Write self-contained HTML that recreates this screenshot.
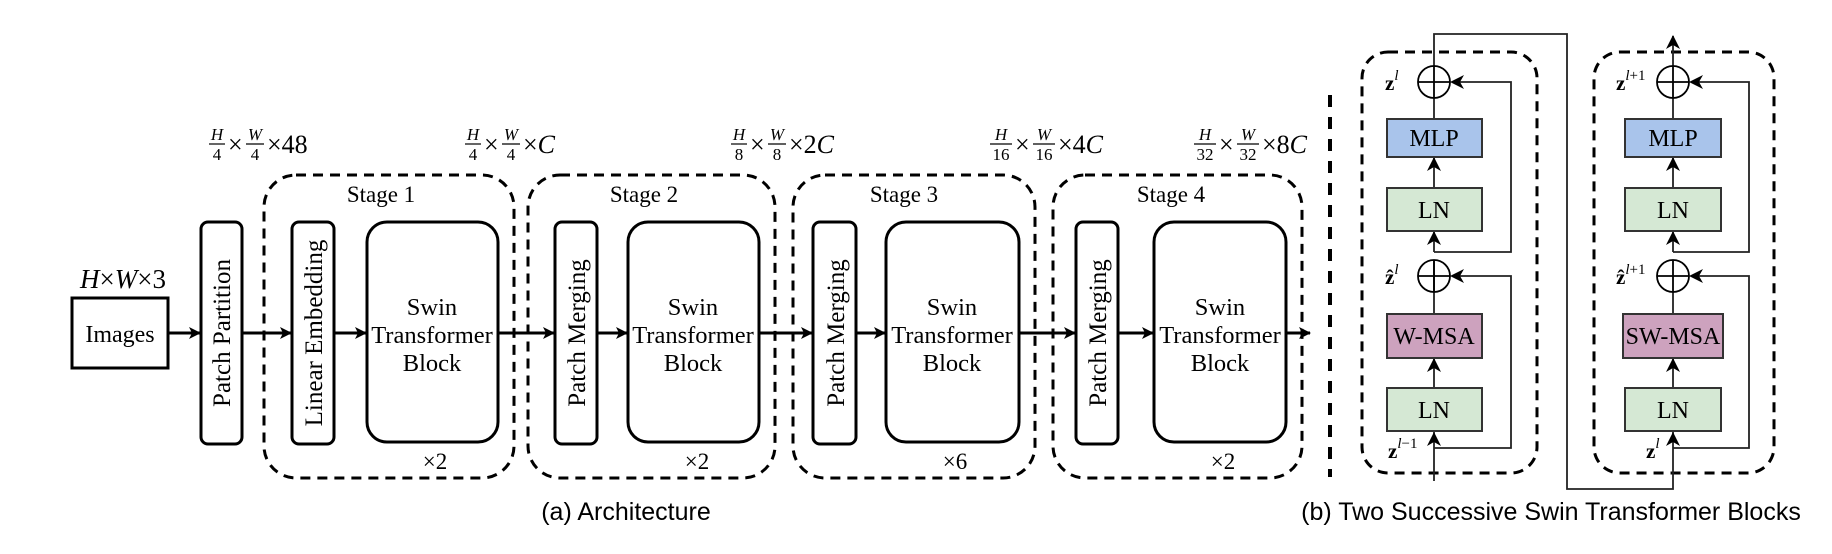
<!DOCTYPE html>
<html><head><meta charset="utf-8"><style>
html,body{margin:0;padding:0;background:#fff;}
svg{display:block;}
text{font-family:"Liberation Serif",serif;fill:#000;}
.s{font-family:"Liberation Sans",sans-serif;}
</style></head><body>
<svg width="1832" height="554" viewBox="0 0 1832 554" xmlns="http://www.w3.org/2000/svg">
<defs>
<marker id="ah" viewBox="0 0 12 12" refX="11" refY="6" markerWidth="12" markerHeight="12" markerUnits="userSpaceOnUse" orient="auto">
<path d="M0,0 L12,6 L0,12 L3,6 Z" fill="#000"/></marker>
</defs>

<g fill="none" stroke="#000" stroke-width="3" stroke-dasharray="10,7">
<rect x="264" y="175" width="250" height="303" rx="32"/>
<rect x="528" y="175" width="247" height="303" rx="32"/>
<rect x="793" y="175" width="242" height="303" rx="32"/>
<rect x="1053" y="175" width="249" height="303" rx="32"/>
</g>

<rect x="72" y="298" width="96" height="70" fill="#fff" stroke="#000" stroke-width="3"/>
<text x="120" y="342" font-size="24" text-anchor="middle">Images</text>
<text x="123" y="288" font-size="27" text-anchor="middle"><tspan font-style="italic">H</tspan>×<tspan font-style="italic">W</tspan>×3</text>

<g fill="#fff" stroke="#000" stroke-width="3">
<rect x="201" y="222" width="41" height="222" rx="7"/>
<rect x="292" y="222" width="42" height="222" rx="7"/>
<rect x="367" y="222" width="131" height="220" rx="20"/>
<rect x="555" y="222" width="42" height="222" rx="7"/>
<rect x="628" y="222" width="131" height="220" rx="20"/>
<rect x="813" y="222" width="43" height="222" rx="7"/>
<rect x="886" y="222" width="133" height="220" rx="20"/>
<rect x="1076" y="222" width="42" height="222" rx="7"/>
<rect x="1154" y="222" width="132" height="220" rx="20"/>
</g>

<g font-size="25" text-anchor="middle">
<text transform="translate(230,333) rotate(-90)">Patch Partition</text>
<text transform="translate(322,333) rotate(-90)">Linear Embedding</text>
<text transform="translate(585,333) rotate(-90)">Patch Merging</text>
<text transform="translate(844,333) rotate(-90)">Patch Merging</text>
<text transform="translate(1106,333) rotate(-90)">Patch Merging</text>
</g>

<g font-size="24.5" text-anchor="middle">
<text x="432" y="315">Swin</text><text x="432" y="343">Transformer</text><text x="432" y="371">Block</text>
<text x="693" y="315">Swin</text><text x="693" y="343">Transformer</text><text x="693" y="371">Block</text>
<text x="952" y="315">Swin</text><text x="952" y="343">Transformer</text><text x="952" y="371">Block</text>
<text x="1220" y="315">Swin</text><text x="1220" y="343">Transformer</text><text x="1220" y="371">Block</text>
</g>

<g font-size="23" text-anchor="middle">
<text x="381" y="202">Stage 1</text>
<text x="644" y="202">Stage 2</text>
<text x="904" y="202">Stage 3</text>
<text x="1171" y="202">Stage 4</text>
<text x="435" y="469">×2</text>
<text x="697" y="469">×2</text>
<text x="955" y="469">×6</text>
<text x="1223" y="469">×2</text>
</g>

<g stroke="#000" stroke-width="3" marker-end="url(#ah)">
<line x1="168" y1="333" x2="200" y2="333"/>
<line x1="242" y1="333" x2="291" y2="333"/>
<line x1="334" y1="333" x2="366" y2="333"/>
<line x1="498" y1="333" x2="554" y2="333"/>
<line x1="597" y1="333" x2="627" y2="333"/>
<line x1="759" y1="333" x2="812" y2="333"/>
<line x1="856" y1="333" x2="885" y2="333"/>
<line x1="1019" y1="333" x2="1075" y2="333"/>
<line x1="1118" y1="333" x2="1153" y2="333"/>
<line x1="1286" y1="333" x2="1310" y2="333"/>
</g>

<g font-size="26">
<g transform="translate(209,0)">
<text x="8" y="140" font-size="17" font-style="italic" text-anchor="middle">H</text><line x1="0" y1="144" x2="16" y2="144" stroke="#000" stroke-width="1.2"/><text x="8" y="160" font-size="17" text-anchor="middle">4</text>
<text x="19" y="153">×</text>
<text x="46" y="140" font-size="17" font-style="italic" text-anchor="middle">W</text><line x1="37" y1="144" x2="55" y2="144" stroke="#000" stroke-width="1.2"/><text x="46" y="160" font-size="17" text-anchor="middle">4</text>
<text x="58" y="153">×48</text>
</g>
<g transform="translate(465,0)">
<text x="8" y="140" font-size="17" font-style="italic" text-anchor="middle">H</text><line x1="0" y1="144" x2="16" y2="144" stroke="#000" stroke-width="1.2"/><text x="8" y="160" font-size="17" text-anchor="middle">4</text>
<text x="19" y="153">×</text>
<text x="46" y="140" font-size="17" font-style="italic" text-anchor="middle">W</text><line x1="37" y1="144" x2="55" y2="144" stroke="#000" stroke-width="1.2"/><text x="46" y="160" font-size="17" text-anchor="middle">4</text>
<text x="58" y="153">×<tspan font-style="italic">C</tspan></text>
</g>
<g transform="translate(731,0)">
<text x="8" y="140" font-size="17" font-style="italic" text-anchor="middle">H</text><line x1="0" y1="144" x2="16" y2="144" stroke="#000" stroke-width="1.2"/><text x="8" y="160" font-size="17" text-anchor="middle">8</text>
<text x="19" y="153">×</text>
<text x="46" y="140" font-size="17" font-style="italic" text-anchor="middle">W</text><line x1="37" y1="144" x2="55" y2="144" stroke="#000" stroke-width="1.2"/><text x="46" y="160" font-size="17" text-anchor="middle">8</text>
<text x="58" y="153">×2<tspan font-style="italic">C</tspan></text>
</g>
<g transform="translate(990,0)">
<text x="11" y="140" font-size="17" font-style="italic" text-anchor="middle">H</text><line x1="0" y1="144" x2="22" y2="144" stroke="#000" stroke-width="1.2"/><text x="11" y="160" font-size="17" text-anchor="middle">16</text>
<text x="25" y="153">×</text>
<text x="54" y="140" font-size="17" font-style="italic" text-anchor="middle">W</text><line x1="43" y1="144" x2="65" y2="144" stroke="#000" stroke-width="1.2"/><text x="54" y="160" font-size="17" text-anchor="middle">16</text>
<text x="68" y="153">×4<tspan font-style="italic">C</tspan></text>
</g>
<g transform="translate(1194,0)">
<text x="11" y="140" font-size="17" font-style="italic" text-anchor="middle">H</text><line x1="0" y1="144" x2="22" y2="144" stroke="#000" stroke-width="1.2"/><text x="11" y="160" font-size="17" text-anchor="middle">32</text>
<text x="25" y="153">×</text>
<text x="54" y="140" font-size="17" font-style="italic" text-anchor="middle">W</text><line x1="43" y1="144" x2="65" y2="144" stroke="#000" stroke-width="1.2"/><text x="54" y="160" font-size="17" text-anchor="middle">32</text>
<text x="68" y="153">×8<tspan font-style="italic">C</tspan></text>
</g>
</g>

<text class="s" x="626" y="520" font-size="25" text-anchor="middle">(a) Architecture</text>

<line x1="1330" y1="95" x2="1330" y2="477" stroke="#000" stroke-width="4" stroke-dasharray="12,10"/>

<g fill="none" stroke="#000" stroke-width="3" stroke-dasharray="10,7">
<rect x="1362" y="52" width="175" height="421" rx="26"/>
<rect x="1594" y="52" width="180" height="421" rx="26"/>
</g>

<g fill="none" stroke="#222" stroke-width="1.8">
<polyline points="1434,66 1434,34 1567,34 1567,489 1673,489 1673,432"/>
<line x1="1434" y1="481" x2="1434" y2="432"/>
<line x1="1434" y1="388" x2="1434" y2="358"/>
<line x1="1434" y1="314" x2="1434" y2="260"/>
<line x1="1434" y1="252" x2="1434" y2="231"/>
<line x1="1434" y1="188" x2="1434" y2="157"/>
<line x1="1434" y1="119" x2="1434" y2="98"/>
<polyline points="1434,448 1511,448 1511,276 1452,276"/>
<polyline points="1434,252 1511,252 1511,82 1452,82"/>
<line x1="1673" y1="388" x2="1673" y2="358"/>
<line x1="1673" y1="314" x2="1673" y2="292"/>
<line x1="1673" y1="252" x2="1673" y2="231"/>
<line x1="1673" y1="188" x2="1673" y2="157"/>
<line x1="1673" y1="119" x2="1673" y2="98"/>
<line x1="1673" y1="66" x2="1673" y2="36"/>
<polyline points="1673,448 1749,448 1749,276 1691,276"/>
<polyline points="1673,252 1749,252 1749,82 1691,82"/>
</g>
<g fill="#000">
<path d="M1434,432 l-7,14 l7,-4 l7,4 Z"/>
<path d="M1434,358 l-7,14 l7,-4 l7,4 Z"/>
<path d="M1434,231 l-7,14 l7,-4 l7,4 Z"/>
<path d="M1434,157 l-7,14 l7,-4 l7,4 Z"/>
<path d="M1673,432 l-7,14 l7,-4 l7,4 Z"/>
<path d="M1673,358 l-7,14 l7,-4 l7,4 Z"/>
<path d="M1673,231 l-7,14 l7,-4 l7,4 Z"/>
<path d="M1673,157 l-7,14 l7,-4 l7,4 Z"/>
<path d="M1673,35 l-7,14 l7,-4 l7,4 Z"/>
<path d="M1450,82 l14,-7 l-4,7 l4,7 Z"/>
<path d="M1450,276 l14,-7 l-4,7 l4,7 Z"/>
<path d="M1689,82 l14,-7 l-4,7 l4,7 Z"/>
<path d="M1689,276 l14,-7 l-4,7 l4,7 Z"/>
</g>
<g fill="none" stroke="#000" stroke-width="1.8">
<circle cx="1434" cy="82" r="16"/><line x1="1418" y1="82" x2="1450" y2="82"/><line x1="1434" y1="66" x2="1434" y2="98"/>
<circle cx="1434" cy="276" r="16"/><line x1="1418" y1="276" x2="1450" y2="276"/><line x1="1434" y1="260" x2="1434" y2="292"/>
<circle cx="1673" cy="82" r="16"/><line x1="1657" y1="82" x2="1689" y2="82"/><line x1="1673" y1="66" x2="1673" y2="98"/>
<circle cx="1673" cy="276" r="16"/><line x1="1657" y1="276" x2="1689" y2="276"/><line x1="1673" y1="260" x2="1673" y2="292"/>
</g>

<g stroke="#333" stroke-width="2">
<rect x="1387" y="119" width="95" height="38" fill="#a9c4eb"/>
<rect x="1387" y="188" width="95" height="43" fill="#d5e8d4"/>
<rect x="1387" y="314" width="95" height="44" fill="#cda2be"/>
<rect x="1387" y="388" width="95" height="43" fill="#d5e8d4"/>
<rect x="1625" y="119" width="96" height="38" fill="#a9c4eb"/>
<rect x="1625" y="188" width="96" height="43" fill="#d5e8d4"/>
<rect x="1623" y="314" width="100" height="44" fill="#cda2be"/>
<rect x="1625" y="388" width="96" height="43" fill="#d5e8d4"/>
</g>
<g font-size="24" text-anchor="middle">
<text x="1434" y="146">MLP</text>
<text x="1434" y="218">LN</text>
<text x="1434" y="344">W-MSA</text>
<text x="1434" y="418">LN</text>
<text x="1673" y="146">MLP</text>
<text x="1673" y="218">LN</text>
<text x="1673" y="344">SW-MSA</text>
<text x="1673" y="418">LN</text>
</g>
<g font-size="21" font-weight="bold">
<text x="1385" y="90">z<tspan font-size="15" font-weight="normal" font-style="italic" dy="-10">l</tspan></text>
<text x="1385" y="284">ẑ<tspan font-size="15" font-weight="normal" font-style="italic" dy="-10">l</tspan></text>
<text x="1388" y="458">z<tspan font-size="15" font-weight="normal" font-style="italic" dy="-10">l</tspan><tspan font-size="15" font-weight="normal">−1</tspan></text>
<text x="1616" y="90">z<tspan font-size="15" font-weight="normal" font-style="italic" dy="-10">l</tspan><tspan font-size="15" font-weight="normal">+1</tspan></text>
<text x="1616" y="284">ẑ<tspan font-size="15" font-weight="normal" font-style="italic" dy="-10">l</tspan><tspan font-size="15" font-weight="normal">+1</tspan></text>
<text x="1646" y="458">z<tspan font-size="15" font-weight="normal" font-style="italic" dy="-10">l</tspan></text>
</g>

<text class="s" x="1551" y="520" font-size="25" text-anchor="middle">(b) Two Successive Swin Transformer Blocks</text>
</svg>
</body></html>
